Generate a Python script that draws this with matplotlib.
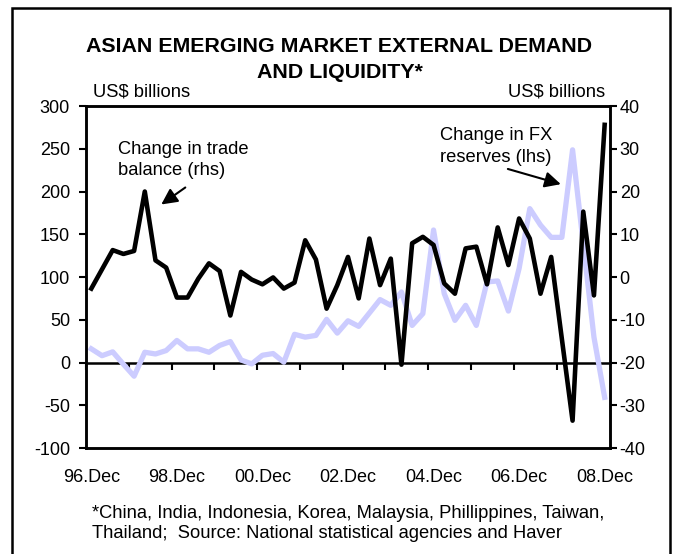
import numpy as np
import matplotlib
matplotlib.use('Agg')
import matplotlib.pyplot as plt
from matplotlib.patches import Rectangle

# quarterly, 96.Dec .. 08.Dec
quarters = np.arange(49)
tick_labels = ['96.Dec', '98.Dec', '00.Dec', '02.Dec', '04.Dec', '06.Dec', '08.Dec']

# Change in FX reserves, US$ bn (lhs)
fx_reserves = [16, 8, 12.5, -2, -16, 12, 10, 14, 25.8, 16,
               16, 12, 20, 24.5, 3, -1.6, 8.5, 10.5, 0.4, 33,
               29.7, 31.7, 50.5, 34.4, 48.8, 42.3, 57.9, 73.6, 66.9, 82.5,
               43.4, 57.2, 155, 80.6, 49.3, 66.9, 43.4, 94.3, 95.4, 60.2,
               110, 180, 160.8, 146.4, 146.4, 248.8, 139, 29.7, -40.7]

# Change in trade balance, US$ bn (rhs)
trade_balance = [-2.7, 1.8, 6.3, 5.4, 6.1, 20, 3.9, 2.2, -4.8, -4.8,
                 -0.4, 3.2, 1.4, -9, 1.2, -0.6, -1.7, -0.1, -2.7, -1.3,
                 8.6, 4.1, -7.4, -1.9, 4.7, -5, 9, -1.9, 4.3, -20.5,
                 7.9, 9.4, 7.5, -1.5, -3.9, 6.7, 7.1, -1.7, 11.6, 2.8,
                 13.7, 9, -3.9, 4.7, -14.5, -33.6, 15.3, -4.3, 35.6]

plt.rcParams['font.family'] = ['Liberation Sans', 'DejaVu Sans']
plt.rcParams['axes.unicode_minus'] = False
fs = 13.2
tfs = 13

fig = plt.figure(figsize=(6.78, 5.54), dpi=100)
ax = fig.add_axes([0.1268, 0.1913, 0.7729, 0.6173])

ax.plot(quarters, fx_reserves, color='#ccccff', lw=3.8)
ax.set_xlim(-0.5, 48.5)
ax.set_ylim(-100, 300)
ax.set_yticks(range(-100, 301, 50))
ax.set_xticks(quarters[::8])
ax.set_xticklabels(tick_labels)
ax.tick_params(axis='x', length=0, pad=15, labelsize=tfs)
ax.tick_params(axis='y', length=5, width=1.5, labelsize=tfs, pad=6.5)
for s in ax.spines.values():
    s.set_linewidth(1.8)

ax2 = ax.twinx()
ax2.plot(quarters, trade_balance, color='black', lw=3.3)
ax2.set_ylim(-40, 40)
ax2.set_yticks(range(-40, 41, 10))
ax2.tick_params(axis='y', length=5, width=1.5, labelsize=tfs, pad=2)
for s in ax2.spines.values():
    s.set_linewidth(1.8)

# zero line with yearly tick marks
zero = ax.secondary_xaxis(0.25)
zero.set_xticks(np.arange(-0.5, 48, 4), labels=[])
zero.tick_params(length=5, width=1.5)
zero.spines['bottom'].set_linewidth(1.8)

# annotations
ax.text(2.5, 237, 'Change in trade\nbalance (rhs)', fontsize=fs, va='center', ha='left',
        linespacing=1.3)
ax.annotate('', xy=(6.33, 183), xytext=(9.0, 206.6),
            arrowprops=dict(arrowstyle='-|>', color='black', lw=1.5, mutation_scale=24))
ax.text(32.6, 253, 'Change in FX\nreserves (lhs)', fontsize=fs, va='center', ha='left',
        linespacing=1.4)
ax.annotate('', xy=(44.15, 207.7), xytext=(38.7, 227.3),
            arrowprops=dict(arrowstyle='-|>', color='black', lw=1.5, mutation_scale=24))

fig.text(0.5007, 1 - 47 / 554, 'ASIAN EMERGING MARKET EXTERNAL DEMAND',
         ha='center', va='center', fontsize=15.4, fontweight='bold')
fig.text(0.5007, 1 - 72 / 554, 'AND LIQUIDITY*',
         ha='center', va='center', fontsize=15.4, fontweight='bold')
fig.text(93 / 678, 1 - 92 / 554, 'US$ billions', ha='left', va='center', fontsize=fs)
fig.text(605 / 678, 1 - 92 / 554, 'US$ billions', ha='right', va='center', fontsize=fs)

fig.text(92 / 678, 1 - 523.5 / 554,
         '*China, India, Indonesia, Korea, Malaysia, Phillippines, Taiwan,\n'
         'Thailand;  Source: National statistical agencies and Haver',
         ha='left', va='center', fontsize=fs, linespacing=1.2)

fig.patches.append(Rectangle((12 / 678, -0.05), (670 - 12) / 678, 1.05 - 8 / 554,
                             transform=fig.transFigure, fill=False, lw=1.8, ec='black'))

fig.savefig('out.png', dpi=100)
